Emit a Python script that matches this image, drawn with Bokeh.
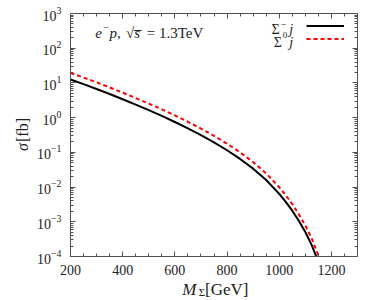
from bokeh.plotting import figure
from bokeh.models import (LinearAxis, LogAxis, Label, Legend, LegendItem,
                          CustomJSTickFormatter, Range1d, FixedTicker)
from bokeh.embed import file_html
from bokeh.resources import INLINE
import math

# ---- data ----
mass = [200, 250, 300, 350, 400, 450, 500, 550, 600, 650, 700, 750, 800,
        850, 900, 950, 1000, 1025, 1050, 1075, 1100, 1125, 1150, 1160]
sigma_minus_j = [12.6, 9.23, 6.68, 4.79, 3.39, 2.37, 1.64, 1.12, 0.750, 0.490,
                 0.313, 0.193, 0.115, 0.0646, 0.0339, 0.0160, 0.00638,
                 0.00376, 0.00209, 0.00107, 0.000507, 0.000209, 0.0000700,
                 0.0000422]
sigma_zero_j = [19.5, 14.3, 10.4, 7.41, 5.25, 3.67, 2.54, 1.74, 1.16, 0.759,
                0.484, 0.299, 0.178, 0.100, 0.0525, 0.0248, 0.00989,
                0.00582, 0.00324, 0.00166, 0.000785, 0.000324, 0.000108,
                0.0000653]
x_ticks = [200, 400, 600, 800, 1000, 1200]
x_minor = [250, 300, 350, 450, 500, 550, 650, 700, 750, 850, 900, 950,
           1050, 1100, 1150, 1250, 1300]
y_ticks = [1e-4, 1e-3, 1e-2, 1e-1, 1e0, 1e1, 1e2, 1e3]
y_minor = [m * 10.0 ** e for e in range(-4, 3) for m in range(2, 10)]

X0, X1 = 200, 1300
Y0, Y1 = 1e-4, 1e3

FONT = "Liberation Serif"
AXIS_COLOR = "#505050"
TEXT_COLOR = "#222222"

# page geometry of the plotting frame
FL, FR, FT, FB = 67, 357, 13, 256
W, H = 382, 300

p = figure(width=W, height=H, y_axis_type="log",
           x_range=Range1d(X0, X1), y_range=Range1d(Y0, Y1),
           output_backend="svg", toolbar_location=None,
           min_border_left=FL, min_border_right=W - FR,
           min_border_top=FT, min_border_bottom=H - FB)
p.outline_line_color = None
p.xgrid.visible = False
p.ygrid.visible = False
p.background_fill_color = "white"
p.border_fill_color = "white"

xt = FixedTicker(ticks=x_ticks, minor_ticks=x_minor)
yt = FixedTicker(ticks=y_ticks, minor_ticks=y_minor)


def style(ax, labels=True):
    ax.axis_line_color = AXIS_COLOR
    ax.axis_line_width = 1
    ax.major_tick_line_color = AXIS_COLOR
    ax.minor_tick_line_color = AXIS_COLOR
    ax.major_tick_in = 5
    ax.major_tick_out = 0
    ax.minor_tick_in = 3
    ax.minor_tick_out = 0
    ax.major_label_text_font = FONT
    ax.major_label_text_color = TEXT_COLOR
    if not labels:
        ax.formatter = CustomJSTickFormatter(code="return ''")
        ax.major_label_text_font_size = "1px"
        ax.major_label_standoff = 0


xa = p.xaxis[0]
xa.ticker = xt
style(xa)
xa.major_label_text_font_size = "14px"
xa.major_label_standoff = 8

ya = p.yaxis[0]
ya.ticker = yt
style(ya)
ya.major_label_text_font_size = "14px"
ya.major_label_standoff = 9

top = LinearAxis(ticker=xt)
style(top, labels=False)
p.add_layout(top, "above")
right = LogAxis(ticker=yt)
style(right, labels=False)
p.add_layout(right, "right")

r1 = p.line(mass, sigma_minus_j, line_color="black", line_width=2)
r2 = p.line(mass, sigma_zero_j, line_color="#ff0000", line_width=2,
            line_dash="4 3")

# legend samples (texts are drawn to their left, gnuplot style)
legend = Legend(items=[LegendItem(label="", renderers=[r1]),
                       LegendItem(label="", renderers=[r2])],
                location=(303 - FL, FB - 42), glyph_width=38, glyph_height=7,
                label_height=7, label_width=0, label_standoff=0,
                padding=0, spacing=6, margin=0,
                border_line_color=None, background_fill_alpha=0)
p.add_layout(legend)


def dx(px):
    return X0 + (px - FL) * (X1 - X0) / (FR - FL)


def dy(py):
    lo, hi = math.log10(Y0), math.log10(Y1)
    return 10 ** (hi - (py - FT) * (hi - lo) / (FB - FT))


def lab(text, px, py, size, style="normal", angle=0.0, place="center"):
    label = Label(text=text, x=dx(px), y=dy(py), text_font=FONT,
                  text_font_size=size, text_font_style=style,
                  text_color=TEXT_COLOR, text_align="left",
                  text_baseline="alphabetic", angle=angle)
    if place == "center":
        p.add_layout(label)
    else:
        p.add_layout(label, place)


# legend texts
lab("Σ", 270, 28.5, "14px")
lab("−", 279.5, 23.8, "10px")
lab("j", 288, 28.5, "14px", "italic")
lab("Σ", 272.5, 41.5, "14px")
lab("0", 281.5, 34.5, "9px")
lab("j", 288, 41.5, "14px", "italic")

# annotation e^- p, sqrt(s) = 1.3 TeV
lab("e", 92, 32.3, "15px", "italic")
lab("−", 100, 26.5, "10px")
lab("p,", 106.5, 32.3, "15px", "italic")
lab("√", 123, 32.3, "15px")
lab("s\u0305", 131.5, 32.3, "15px", "italic")
lab("= 1.3TeV", 144, 32.3, "15px")

# x axis title M_Sigma [GeV]
lab("M", 180, 288.5, "17px", "italic", place="right")
lab("Σ", 196.5, 291, "11px", place="right")
lab("[GeV]", 203, 288.5, "17px", place="below")

# y axis title sigma [fb]
lab("σ", 18.5, 150.5, "16px", "italic", angle=math.pi / 2, place="left")
lab("[fb]", 18.5, 141.5, "16px", angle=math.pi / 2, place="left")

open("out.html", "w").write(file_html(p, INLINE))
